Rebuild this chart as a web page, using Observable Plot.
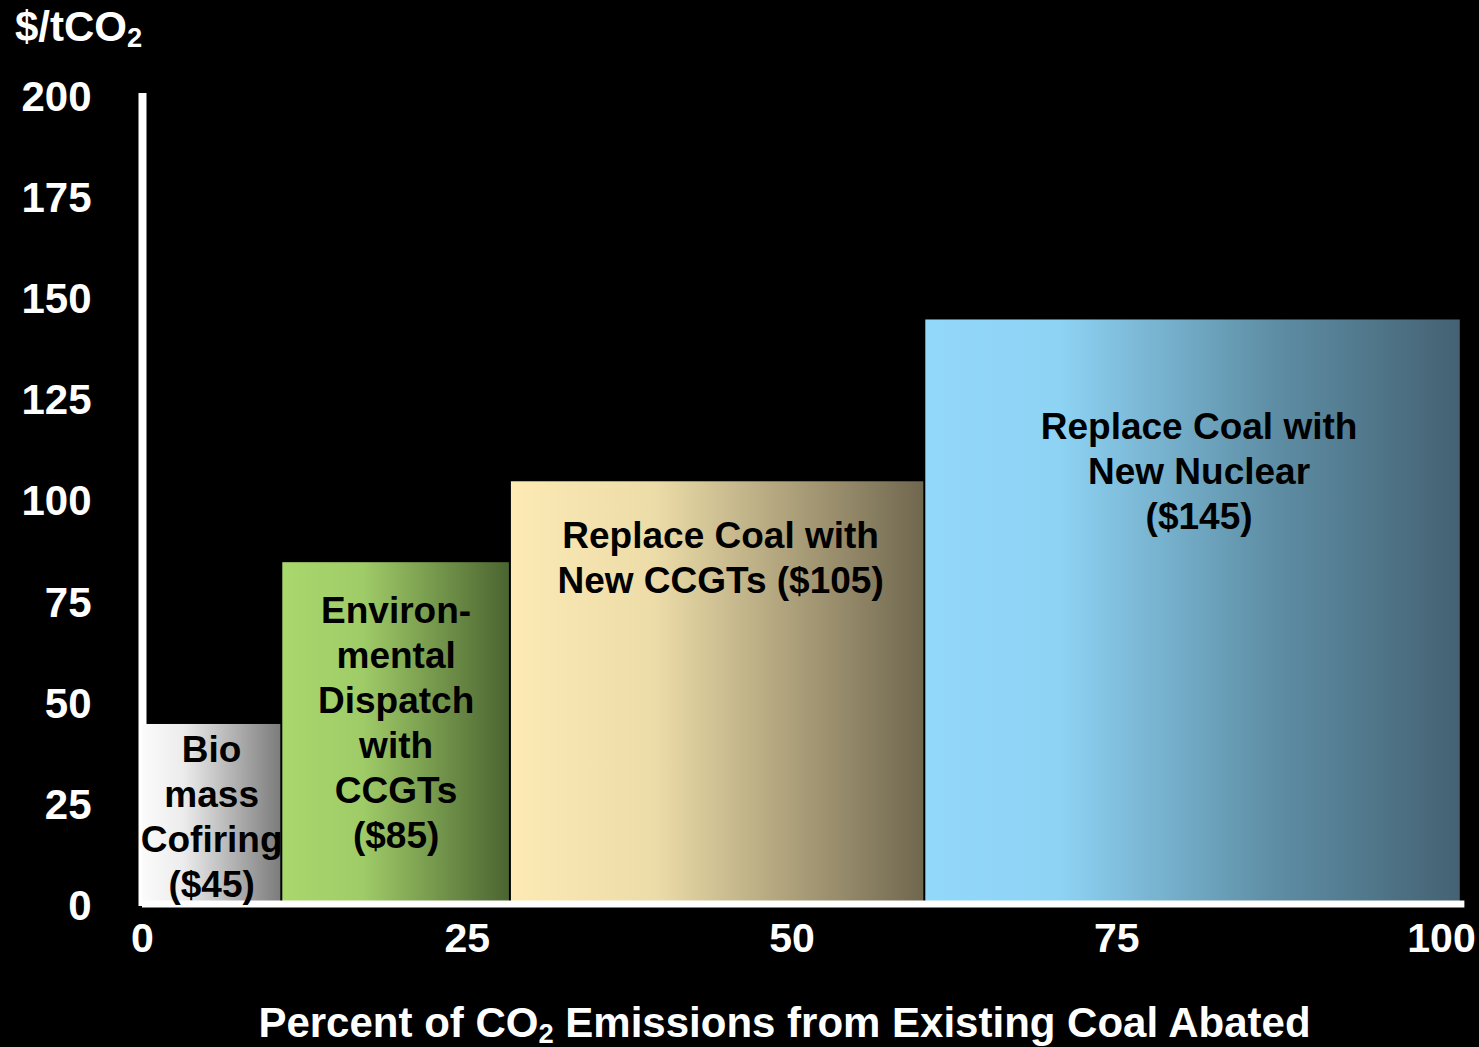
<!DOCTYPE html>
<html>
<head>
<meta charset="utf-8">
<script src="https://cdn.jsdelivr.net/npm/d3@7"></script>
<script src="https://cdn.jsdelivr.net/npm/@observablehq/plot@0.6"></script>
<style>
  html, body { margin: 0; padding: 0; background: #000; overflow: hidden; }
  body { width: 1479px; height: 1047px; font-family: "Liberation Sans", Arial, sans-serif; font-weight: bold; color: #fff; }
  #ylab { height: 60px; box-sizing: border-box; padding: 3px 0 0 15px; font-size: 42px; line-height: 48px; white-space: nowrap; }
  #xlab { height: 57px; box-sizing: border-box; padding: 9px 0 0 90px; font-size: 42px; line-height: 48px; text-align: center; white-space: nowrap; }
  sub { font-size: 0.65em; line-height: 0; vertical-align: -0.22em; }
  #chart svg { display: block; }
</style>
</head>
<body>
<div id="ylab">$/tCO<sub>2</sub></div>
<div id="chart"></div>
<div id="xlab">Percent of CO<sub>2</sub> Emissions from Existing Coal Abated</div>
<script>
// Abatement options, in merit order
const options = ["Biomass Cofiring", "Environmental Dispatch with CCGTs", "Replace Coal with New CCGTs", "Replace Coal with New Nuclear"];
// Label text for each option (the cost is appended from costs below)
const labelText = [
  "Bio\nmass\nCofiring\n",
  "Environ-\nmental\nDispatch\nwith\nCCGTs\n",
  "Replace Coal with\nNew CCGTs ",
  "Replace Coal with\nNew Nuclear\n"
];
// Share of existing-coal CO2 abated by each option (percentage points)
const shares = [10.8, 17.6, 31.9, 41.3];
// Abatement cost ($/tCO2)
const costs = [45, 85, 105, 145];
// Axis ticks
const yTicks = [0, 25, 50, 75, 100, 125, 150, 175, 200];
const xTicks = [0, 25, 50, 75, 100];

// Fill gradients (left → right) and label offsets below each bar top
const gradients = [
  [["0%", "#fbfbfb"], ["30%", "#ececec"], ["100%", "#7c7c7c"]],
  [["0%", "#a9d86d"], ["35%", "#a0cc68"], ["100%", "#4b6431"]],
  [["0%", "#fdeab5"], ["35%", "#ecdca8"], ["100%", "#70674f"]],
  [["0%", "#92d8fb"], ["25%", "#8ed3f4"], ["65%", "#5e8ea5"], ["100%", "#446272"]]
];
const labelDy = [5, 28, 34, 87];
const labelDx = [-1, -1, 2, 5];

// Build rows: cumulative extents along the x axis
let acc = 0;
const rows = options.map((name, i) => {
  const x1 = acc;
  acc += shares[i];
  return {name, x1, x2: acc, cost: costs[i], label: `${labelText[i]}($${costs[i]})`};
});

const defs = () => {
  const d = d3.create("svg:defs");
  gradients.forEach((stops, i) => {
    const g = d.append("linearGradient").attr("id", `grad-${i}`)
      .attr("x1", "0").attr("x2", "1").attr("y1", "0").attr("y2", "0");
    stops.forEach(([o, c]) => g.append("stop").attr("offset", o).attr("stop-color", c));
  });
  return d.node();
};

const plot = Plot.plot({
  width: 1479,
  height: 930,
  marginLeft: 142,
  marginRight: 38,
  marginTop: 37,
  marginBottom: 84,
  x: {domain: [0, 100]},
  y: {domain: [0, 200]},
  style: {
    background: "black",
    color: "white",
    fontFamily: "'Liberation Sans', Arial, sans-serif",
    fontWeight: "bold",
    fontSize: "42px",
    overflow: "visible"
  },
  marks: [
    defs,
    Plot.ruleX([0], {y1: 0, y2: 201, stroke: "white", strokeWidth: 8}),
    ...rows.map((r, i) => Plot.rectY([r], {
      x1: "x1", x2: "x2", y1: 0, y2: "cost",
      fill: `url(#grad-${i})`, insetRight: 2, insetBottom: 4
    })),
    Plot.ruleY([0], {x1: 0, x2: 101.8, stroke: "white", strokeWidth: 7, dy: -2.5}),
    ...rows.map((r, i) => Plot.text([r], {
      x: d => (d.x1 + d.x2) / 2, y: "cost", text: "label",
      lineAnchor: "top", dy: labelDy[i], dx: labelDx[i], fontSize: 37, lineHeight: 1.22,
      fill: "black", fontWeight: "bold"
    })),
    Plot.axisY({ticks: yTicks, tickSize: 0, tickPadding: 51, label: null}),
    Plot.axisX({ticks: xTicks, tickSize: 0, tickPadding: 16, label: null, fontSize: 41})
  ]
});
document.getElementById("chart").append(plot);
</script>
</body>
</html>
